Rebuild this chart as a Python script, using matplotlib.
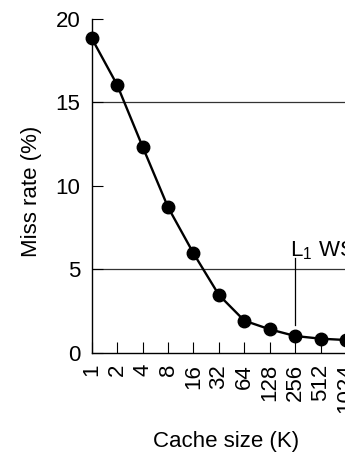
import matplotlib
matplotlib.use("Agg")
import matplotlib.pyplot as plt

plt.rcParams['font.family'] = ['Liberation Sans', 'DejaVu Sans']
plt.rcParams['mathtext.fontset'] = 'custom'
plt.rcParams['mathtext.rm'] = 'Liberation Sans'

cache_sizes = ["1", "2", "4", "8", "16", "32", "64", "128", "256", "512", "1024"]
miss_rate = [18.85, 16.05, 12.35, 8.72, 5.96, 3.46, 1.92, 1.40, 1.00, 0.84, 0.76]
y_ticks = [0, 5, 10, 15, 20]
ref_levels = [15, 5]
ws_index = 8
ws_span = (1.66, 5.65)

W, H = 345, 453
fig = plt.figure(figsize=(W / 100, H / 100), dpi=100)

x0, y0 = 91.7, 352.7
dx = 25.44
dy = (352.7 - 19.0) / 20.0
xmax = 11
ax = fig.add_axes([x0 / W, (H - y0) / H, dx * xmax / W, dy * 20 / H])

xs = list(range(len(cache_sizes)))
for lvl in ref_levels:
    ax.axhline(lvl, color='#333333', lw=0.9, zorder=1)
ax.plot([ws_index, ws_index], ws_span, color='black', lw=0.9, zorder=1)
ax.plot(xs, miss_rate, color='black', lw=1.7, marker='o', ms=9,
        clip_on=False, zorder=3)

ax.text(7.8, 5.8, r'L$_{\mathregular{1}}$ WS', fontsize=16, va='baseline', ha='left')

ax.set_xlim(0, xmax)
ax.set_ylim(0, 20)
ax.set_xticks(xs)
ax.set_xticklabels(cache_sizes, rotation=90, va='top', ha='center')
ax.set_yticks(y_ticks)
for s in ('top', 'right'):
    ax.spines[s].set_visible(False)
for s in ('left', 'bottom'):
    ax.spines[s].set_linewidth(1.0)
ax.tick_params(axis='both', direction='in', length=8, width=0.8,
               labelsize=16, colors='black')
ax.tick_params(axis='x', pad=8)
ax.tick_params(axis='y', pad=8)

ax.set_xlabel('Cache size (K)', fontsize=16)
ax.set_ylabel('Miss rate (%)', fontsize=16)
ax.xaxis.set_label_coords((226 - x0) / (dx * xmax), (y0 - 441) / (dy * 20))
ax.yaxis.set_label_coords((32 - x0) / (dx * xmax), (y0 - 191) / (dy * 20))
ax.xaxis.label.set_va('center')
ax.yaxis.label.set_va('center')

fig.savefig('out.png', dpi=100)
